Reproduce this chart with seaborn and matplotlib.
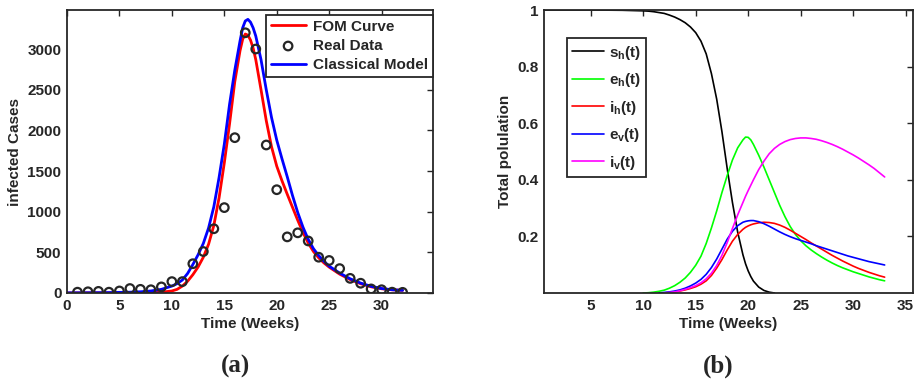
import numpy as np
import pandas as pd
import seaborn as sns
import matplotlib
matplotlib.use("Agg")
import matplotlib.pyplot as plt

# ---- panel (a): infected cases ----
weeks = [1, 2, 3, 4, 5, 6, 7, 8, 9, 10, 11, 12, 13, 14, 15, 16,
         17, 18, 19, 20, 21, 22, 23, 24, 25, 26, 27, 28, 29, 30, 31, 32]
real_cases = [10, 15, 20, 10, 25, 55, 45, 40, 75, 140, 140, 360, 510, 790, 1050, 1910,
              3200, 3000, 1820, 1270, 690, 740, 640, 440, 400, 300, 180, 120, 50, 40, 10, 8]

model_t = [0, 2, 4, 6, 7, 8, 9, 10, 10.5, 11, 11.5, 12, 12.5, 13, 13.5, 14, 14.5, 15,
           15.5, 16, 16.5, 16.75, 17, 17.25, 17.5, 17.75, 18, 18.5, 19, 19.5, 20, 20.5,
           21, 21.5, 22, 22.5, 23, 23.5, 24, 24.5, 25, 26, 27, 28, 29, 30, 31, 32]
fom_curve = [0, 1, 1, 2, 3, 5, 10, 25, 45, 85, 145, 225, 320, 440, 600, 830, 1170, 1600,
             2080, 2600, 2980, 3120, 3185, 3170, 3110, 3010, 2870, 2500, 2120, 1800, 1560, 1380,
             1215, 1055, 895, 745, 615, 510, 432, 370, 318, 232, 165, 114, 76, 52, 39, 33]
classical_model = [2, 3, 5, 10, 15, 25, 45, 85, 115, 160, 240, 350, 470, 610, 800, 1060, 1420, 1830,
                   2320, 2740, 3100, 3260, 3345, 3365, 3330, 3260, 3160, 2870, 2500, 2160, 1880, 1650,
                   1430, 1200, 990, 810, 660, 545, 460, 390, 330, 245, 175, 122, 82, 55, 40, 33]

# ---- panel (b): population fractions ----
nan = np.nan
weeks_b = [0.5, 5, 8, 10, 10.5, 11, 11.5, 12, 12.5, 13, 13.5, 14, 14.5, 15, 15.5, 16, 16.5,
           17, 17.5, 18, 18.5, 19, 19.5, 19.75, 20, 20.25, 20.5, 21, 21.5, 22, 22.5, 23, 23.5,
           24, 24.5, 25, 25.5, 26, 26.5, 27, 27.5, 28, 28.5, 29, 29.5, 30, 30.5, 31, 31.5, 32,
           32.5, 33]
s_h = [1.0, 1.0, 0.999, 0.997, 0.996, 0.994, 0.991, 0.988, 0.982, 0.975, 0.966, 0.955, 0.94,
       0.92, 0.89, 0.845, 0.775, 0.685, 0.57, 0.44, 0.32, 0.215, 0.135, 0.103, 0.078, 0.058,
       0.042, 0.021, 0.009, 0.003, 0.0, nan, nan, nan, nan, nan, nan, nan, nan, nan, nan, nan,
       nan, nan, nan, nan, nan, nan, nan, nan, nan, nan]
e_h = [nan, nan, nan, 0.0, 0.001, 0.003, 0.006, 0.01, 0.017, 0.026, 0.038, 0.053, 0.073,
       0.098, 0.13, 0.175, 0.23, 0.29, 0.355, 0.415, 0.47, 0.513, 0.541, 0.551, 0.55, 0.541,
       0.525, 0.487, 0.445, 0.40, 0.355, 0.31, 0.27, 0.235, 0.207, 0.185, 0.167, 0.152, 0.139,
       0.127, 0.116, 0.106, 0.097, 0.089, 0.082, 0.075, 0.069, 0.063, 0.057, 0.052, 0.047, 0.043]
i_h = [nan, nan, nan, nan, nan, nan, nan, 0.0, 0.002, 0.004, 0.007, 0.011, 0.016,
       0.022, 0.031, 0.043, 0.062, 0.088, 0.118, 0.152, 0.183, 0.207, 0.225, 0.232, 0.237,
       0.241, 0.244, 0.248, 0.25, 0.249, 0.246, 0.24, 0.232, 0.222, 0.211, 0.2, 0.189, 0.177,
       0.166, 0.155, 0.144, 0.133, 0.123, 0.113, 0.104, 0.095, 0.087, 0.08, 0.073, 0.067, 0.061,
       0.056]
e_v = [nan, nan, nan, nan, nan, nan, 0.0, 0.002, 0.004, 0.007, 0.011, 0.017, 0.025,
       0.035, 0.048, 0.066, 0.09, 0.12, 0.155, 0.19, 0.218, 0.238, 0.25, 0.253, 0.255, 0.256,
       0.256, 0.252, 0.245, 0.236, 0.226, 0.216, 0.207, 0.199, 0.192, 0.186, 0.18, 0.174, 0.167,
       0.161, 0.155, 0.149, 0.143, 0.137, 0.131, 0.126, 0.121, 0.116, 0.111, 0.107, 0.103, 0.099]
i_v = [nan, nan, nan, nan, nan, nan, nan, 0.0, 0.002, 0.004, 0.008, 0.013, 0.019,
       0.026, 0.036, 0.05, 0.07, 0.097, 0.133, 0.178, 0.228, 0.276, 0.32, 0.342, 0.362, 0.381,
       0.4, 0.436, 0.466, 0.492, 0.511, 0.525, 0.535, 0.542, 0.546, 0.548, 0.548, 0.546, 0.543,
       0.538, 0.532, 0.525, 0.517, 0.508, 0.498, 0.488, 0.477, 0.465, 0.453, 0.44, 0.425, 0.41]

sns.set_style("white")
plt.rcParams['font.family'] = ['Liberation Sans', 'DejaVu Sans']
plt.rcParams['font.weight'] = 'bold'
plt.rcParams['axes.labelweight'] = 'bold'
plt.rcParams['mathtext.fontset'] = 'custom'
plt.rcParams['mathtext.rm'] = 'Liberation Sans:bold'
plt.rcParams['mathtext.it'] = 'Liberation Sans:bold'
plt.rcParams['mathtext.bf'] = 'Liberation Sans:bold'

INK = '#262626'

fig = plt.figure(figsize=(9.18, 3.82), dpi=100)
ax1 = fig.add_axes([67 / 918, 89 / 382, 366 / 918, 283 / 382])
ax2 = fig.add_axes([544 / 918, 89 / 382, 369 / 918, 283 / 382])


def style_axes(ax):
    for sp in ax.spines.values():
        sp.set_visible(True)
        sp.set_color(INK)
        sp.set_linewidth(1.3)
    ax.tick_params(direction='in', length=4, width=1.0, color=INK, top=True, right=True,
                   labelsize=11, labelcolor=INK, pad=4)
    for lab in ax.get_xticklabels() + ax.get_yticklabels():
        lab.set_fontweight('bold')


# panel (a)
sns.lineplot(x=model_t, y=fom_curve, ax=ax1, color='#ff0000', linewidth=2, label='FOM Curve')
sns.scatterplot(x=weeks, y=real_cases, ax=ax1, marker='o', s=38, facecolor='none',
                edgecolor=INK, linewidth=1.6, label='Real Data', zorder=3)
sns.lineplot(x=model_t, y=classical_model, ax=ax1, color='#0000ff', linewidth=2,
             label='Classical Model')
ax1.set_xlim(0, 34.9)
ax1.set_ylim(0, 3480)
ax1.set_xticks([0, 5, 10, 15, 20, 25, 30])
ax1.set_yticks([0, 500, 1000, 1500, 2000, 2500, 3000])
ax1.set_xlabel('Time (Weeks)', fontsize=11, color=INK, labelpad=3)
ax1.set_ylabel('infected Cases', fontsize=11, color=INK, labelpad=4)
style_axes(ax1)
h, l = ax1.get_legend_handles_labels()
leg = ax1.legend(h, l, loc='upper right', bbox_to_anchor=(1.0, 0.982), borderaxespad=0,
                 fontsize=11, frameon=True, fancybox=False, framealpha=1, edgecolor=INK,
                 handlelength=2.3, handletextpad=0.5, labelspacing=0.35, borderpad=0.3)
leg.get_frame().set_linewidth(1.3)

# panel (b)
curves = [(s_h, '#000000', '$s_h(t)$'), (e_h, '#00ff00', '$e_h(t)$'),
          (i_h, '#ff0000', '$i_h(t)$'), (e_v, '#0000ff', '$e_v(t)$'),
          (i_v, '#ff00ff', '$i_v(t)$')]
for vals, col, lab in curves:
    df = pd.DataFrame({'t': weeks_b, 'v': vals}).dropna()
    sns.lineplot(data=df, x='t', y='v', ax=ax2, color=col, linewidth=1.2, label=lab)
ax2.set_xlim(0.55, 35.7)
ax2.set_ylim(0, 1)
ax2.set_xticks([5, 10, 15, 20, 25, 30, 35])
ax2.set_yticks([0.2, 0.4, 0.6, 0.8, 1.0])
ax2.set_yticklabels(['0.2', '0.4', '0.6', '0.8', '1'])
ax2.set_xlabel('Time (Weeks)', fontsize=11, color=INK, labelpad=3)
ax2.set_ylabel('Total polulation', fontsize=11, color=INK, labelpad=4)
style_axes(ax2)
h, l = ax2.get_legend_handles_labels()
leg2 = ax2.legend(h, l, loc='upper left', bbox_to_anchor=(0.062, 0.90), borderaxespad=0,
                  fontsize=11, frameon=True, fancybox=False, framealpha=1, edgecolor=INK,
                  handlelength=2.1, handletextpad=0.3, labelspacing=0.62, borderpad=0.35)
leg2.get_frame().set_linewidth(1.3)

fig.text(236 / 918, 1 - 366 / 382, '(a)', ha='center', va='center', fontsize=18,
         family='Liberation Serif', weight='bold')
fig.text(718 / 918, 1 - 366 / 382, '(b)', ha='center', va='center', fontsize=18,
         family='Liberation Serif', weight='bold')

fig.savefig('out.png', dpi=100)
